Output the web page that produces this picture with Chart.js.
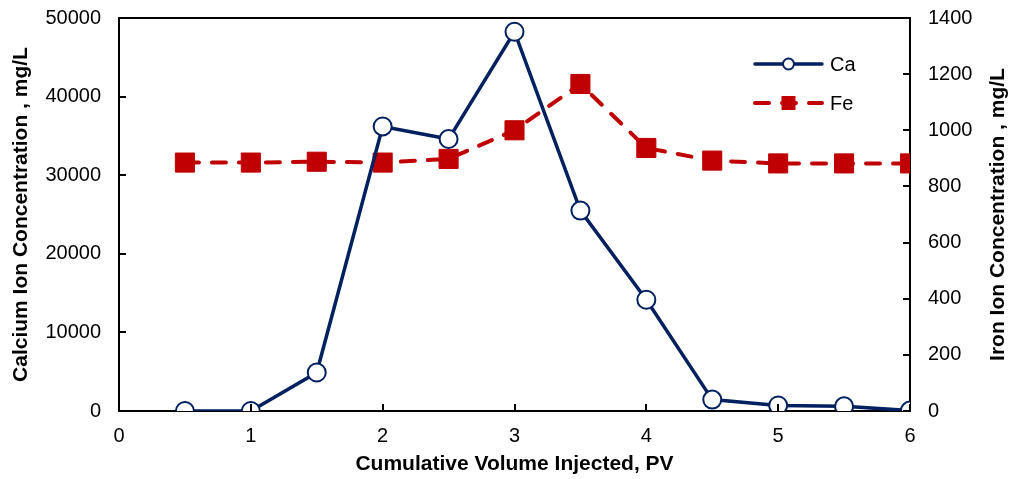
<!DOCTYPE html>
<html>
<head>
<meta charset="utf-8">
<script src="https://cdn.jsdelivr.net/npm/chart.js@4.4.1/dist/chart.umd.min.js"></script>
<style>
    html, body { margin: 0; padding: 0; background: #ffffff; }
    #wrap { width: 1013px; height: 479px; }
</style>
</head>
<body>
<div id="wrap"><canvas id="ionChart"></canvas></div>
<script>
// data
const pvValues = [0.5, 1, 1.5, 2, 2.5, 3, 3.5, 4, 4.5, 5, 5.5, 6];
const caValues = [0, 0, 4900, 36200, 34600, 48250, 25500, 14150, 1450, 700, 600, 50];
const feValues = [885, 885, 888, 885, 898, 1000, 1165, 937, 892, 882, 882, 882];

const xTicks = [0, 1, 2, 3, 4, 5, 6];
const caTicks = [0, 10000, 20000, 30000, 40000, 50000];
const feTicks = [0, 200, 400, 600, 800, 1000, 1200, 1400];

const fontName = "'Liberation Sans', Arial, sans-serif";
const tickFont = { family: fontName, size: 20 };
const plainNumber = v => String(v);

const toPoints = (xs, ys) => xs.map((x, i) => ({ x: x, y: ys[i] }));

// fixed axis sizes so the plot box lands where the original has it
const fixWidth = w => s => { s.width = w; s.paddingTop = 0; s.paddingBottom = 0; };
const fixHeight = h => s => { s.height = h; s.paddingLeft = 0; s.paddingRight = 0; };

// ticks that point into the plot, the top frame line and the right title
const framePlugin = {
    id: "frame",
    afterDraw(chart) {
        const { ctx, chartArea: a, scales } = chart;
        ctx.save();
        ctx.strokeStyle = "#000000";
        ctx.lineWidth = 2;
        ctx.beginPath();
        ctx.moveTo(a.left - 1, a.top);
        ctx.lineTo(a.right + 1, a.top);
        scales.x.ticks.forEach(t => {
            const px = Math.round(scales.x.getPixelForValue(t.value));
            ctx.moveTo(px, a.bottom);
            ctx.lineTo(px, a.bottom - 7);
        });
        scales.y.ticks.forEach(t => {
            const py = Math.round(scales.y.getPixelForValue(t.value));
            ctx.moveTo(a.left, py);
            ctx.lineTo(a.left + 7, py);
        });
        scales.y1.ticks.forEach(t => {
            const py = Math.round(scales.y1.getPixelForValue(t.value));
            ctx.moveTo(a.right, py);
            ctx.lineTo(a.right - 7, py);
        });
        ctx.stroke();

        ctx.translate(998, (a.top + a.bottom) / 2);
        ctx.rotate(-Math.PI / 2);
        ctx.fillStyle = "#000000";
        ctx.font = "bold 21px " + fontName;
        ctx.textAlign = "center";
        ctx.textBaseline = "middle";
        ctx.fillText("Iron Ion Concentration , mg/L", 0, 0);
        ctx.restore();
    }
};

// Excel-like legend: line with marker in the middle
const legendPlugin = {
    id: "sideLegend",
    afterDraw(chart, args, opts) {
        const { ctx } = chart;
        ctx.save();
        chart.data.datasets.forEach((ds, i) => {
            const y = opts.top + i * opts.gap;
            const x0 = opts.left, x1 = opts.left + opts.lineLen;
            const xm = (x0 + x1) / 2;
            ctx.strokeStyle = ds.borderColor;
            ctx.lineWidth = ds.borderWidth;
            ctx.lineCap = "round";
            ctx.setLineDash(ds.borderDash || []);
            ctx.beginPath();
            ctx.moveTo(x0, y);
            ctx.lineTo(x1, y);
            ctx.stroke();
            ctx.setLineDash([]);

            ctx.fillStyle = ds.pointBackgroundColor;
            ctx.strokeStyle = ds.pointBorderColor;
            ctx.lineWidth = 2;
            if (ds.pointStyle === "rect") {
                ctx.fillRect(xm - 7, y - 7, 14, 14);
            } else {
                ctx.beginPath();
                ctx.arc(xm, y, 5.5, 0, Math.PI * 2);
                ctx.fill();
                ctx.stroke();
            }

            ctx.fillStyle = "#000000";
            ctx.font = "20px " + fontName;
            ctx.textAlign = "left";
            ctx.textBaseline = "middle";
            ctx.fillText(ds.label, x1 + 8, y + 1);
        });
        ctx.restore();
    }
};

new Chart(document.getElementById("ionChart"), {
    type: "scatter",
    data: {
        datasets: [
            {
                label: "Ca",
                data: toPoints(pvValues, caValues),
                yAxisID: "y",
                showLine: true,
                borderColor: "#002060",
                borderWidth: 3.5,
                pointStyle: "circle",
                pointRadius: 9,
                pointBorderWidth: 2,
                pointBackgroundColor: "#ffffff",
                pointBorderColor: "#002060"
            },
            {
                label: "Fe",
                data: toPoints(pvValues, feValues),
                yAxisID: "y1",
                showLine: true,
                borderColor: "#c00000",
                borderWidth: 4,
                borderDash: [14, 13],
                borderCapStyle: "round",
                pointStyle: "rect",
                pointRadius: 13.5,
                pointBorderWidth: 1,
                pointBackgroundColor: "#c00000",
                pointBorderColor: "#c00000"
            }
        ]
    },
    options: {
        responsive: true,
        maintainAspectRatio: false,
        animation: false,
        layout: { padding: { top: 18, left: 0, right: 0, bottom: 0 } },
        plugins: {
            legend: { display: false },
            tooltip: { enabled: false },
            sideLegend: { left: 755, top: 64, gap: 39, lineLen: 67 }
        },
        scales: {
            x: {
                type: "linear",
                min: 0,
                max: 6,
                afterBuildTicks: s => { s.ticks = xTicks.map(v => ({ value: v })); },
                afterFit: fixHeight(68),
                ticks: { color: "#000000", font: tickFont, padding: 13, maxRotation: 0, callback: plainNumber },
                grid: { display: false, drawTicks: false },
                border: { display: true, color: "#000000", width: 2 },
                title: {
                    display: true,
                    text: "Cumulative Volume Injected, PV",
                    color: "#000000",
                    font: { family: fontName, size: 21, weight: "bold" },
                    padding: { top: 0, bottom: 2 }
                }
            },
            y: {
                position: "left",
                min: 0,
                max: 50000,
                afterBuildTicks: s => { s.ticks = caTicks.map(v => ({ value: v })); },
                afterFit: fixWidth(119),
                ticks: { color: "#000000", font: tickFont, padding: 18, callback: plainNumber },
                grid: { display: false, drawTicks: false },
                border: { display: true, color: "#000000", width: 2 },
                title: {
                    display: true,
                    text: "Calcium Ion Concentration , mg/L",
                    color: "#000000",
                    font: { family: fontName, size: 21, weight: "bold" },
                    padding: { top: 9, bottom: 0 }
                }
            },
            y1: {
                position: "right",
                min: 0,
                max: 1400,
                afterBuildTicks: s => { s.ticks = feTicks.map(v => ({ value: v })); },
                afterFit: fixWidth(103),
                ticks: { color: "#000000", font: tickFont, padding: 18, callback: plainNumber },
                grid: { display: false, drawTicks: false },
                border: { display: true, color: "#000000", width: 2 }
            }
        }
    },
    plugins: [framePlugin, legendPlugin]
});
</script>
</body>
</html>
